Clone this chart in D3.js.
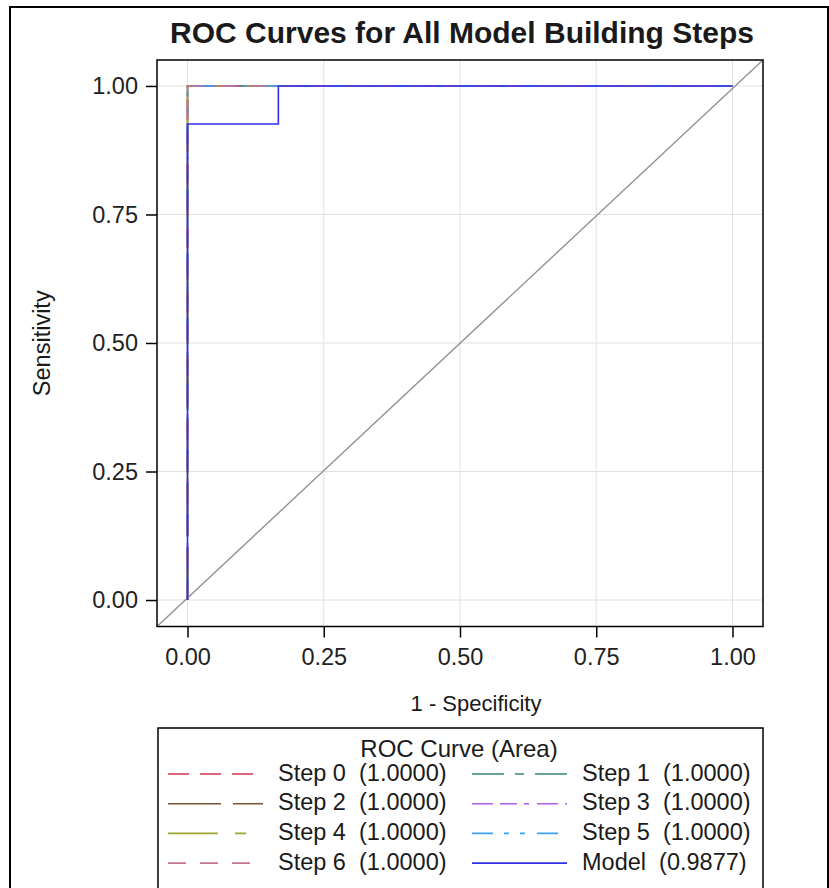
<!DOCTYPE html>
<meta charset="utf-8">
<script src="https://cdn.jsdelivr.net/npm/d3@7"></script>
<style>
body { margin: 0; background: #fff; }
text { font-family: "Liberation Sans", Arial, sans-serif; fill: #1a1a1a; }
.tick text { font-size: 23.5px; fill: #222; }
.grid line { stroke: #e1e1e1; stroke-width: 1px; }
.curve { fill: none; stroke-width: 1.6px; }
</style>
<div id="plot"></div>
<script>

// ROC data
var curveNames = ["Step 0", "Step 1", "Step 2", "Step 3", "Step 4", "Step 5", "Step 6", "Model"];
var curveAreas = [1.0000, 1.0000, 1.0000, 1.0000, 1.0000, 1.0000, 1.0000, 0.9877];
var stepFpr = [0, 0, 1];
var stepTpr = [0, 1, 1];
var modelFpr = [0, 0, 0.1667, 0.1667, 1];
var modelTpr = [0, 0.926, 0.926, 1, 1];
var xTicks = [0, 0.25, 0.5, 0.75, 1];
var yTicks = [0, 0.25, 0.5, 0.75, 1];

var colors = ["#d2344f", "#35897a", "#7b5433", "#b05fe6", "#9ea532", "#3f9ff0", "#c8739a", "#3030e8"];
var dashes = ["21,11", "32,11,9,11", "53,12", "21,7,17,7,5,8", "50,17,11,17", "21,11,5,11,5,12", "18,14", null];

// sizes
var W = 829, H = 888;
var margin = {top: 60, right: 66, bottom: 261.5, left: 157},
	width = W - margin.left - margin.right,
	height = H - margin.top - margin.bottom;

var x = d3.scaleLinear().domain([-0.056, 1.056]).range([0, width]);
var y = d3.scaleLinear().domain([-0.0515, 1.0505]).range([height, 0]);

var root = d3.select("#plot").append("svg")
	.attr("width", W)
	.attr("height", H);

// outer frame
root.append("rect")
	.attr("x", 10).attr("y", 7)
	.attr("width", 818).attr("height", 900)
	.attr("fill", "none")
	.attr("stroke", "#000")
	.attr("stroke-width", 2);

root.append("text")
	.attr("x", 462)
	.attr("y", 43)
	.attr("text-anchor", "middle")
	.style("font-size", "30px")
	.style("font-weight", "bold")
	.text("ROC Curves for All Model Building Steps");

var svg = root.append("g")
	.attr("transform", "translate(" + margin.left + "," + margin.top + ")");

// grid
svg.append("g").attr("class", "grid")
	.selectAll("line").data(xTicks).enter().append("line")
	.attr("x1", function(d) { return x(d); })
	.attr("x2", function(d) { return x(d); })
	.attr("y1", 0).attr("y2", height);

svg.append("g").attr("class", "grid")
	.selectAll("line").data(yTicks).enter().append("line")
	.attr("y1", function(d) { return y(d); })
	.attr("y2", function(d) { return y(d); })
	.attr("x1", 0).attr("x2", width);

// axes
var xAxis = d3.axisBottom(x).tickValues(xTicks).tickFormat(d3.format(".2f"))
	.tickSizeInner(11).tickSizeOuter(0).tickPadding(11);
var yAxis = d3.axisLeft(y).tickValues(yTicks).tickFormat(d3.format(".2f"))
	.tickSizeInner(11).tickSizeOuter(0).tickPadding(8);

svg.append("g")
	.attr("transform", "translate(0," + height + ")")
	.call(xAxis)
	.call(function(g) { g.select(".domain").remove(); });

svg.append("g")
	.call(yAxis)
	.call(function(g) { g.select(".domain").remove(); });

svg.selectAll(".tick line").attr("stroke", "#000").attr("stroke-width", 1.5);
svg.selectAll(".tick text").attr("font-family", null).attr("font-size", null);

svg.append("text")
	.attr("x", 476 - margin.left)
	.attr("y", height + 84)
	.attr("text-anchor", "middle")
	.style("font-size", "22px")
	.text("1 - Specificity");

svg.append("text")
	.attr("transform", "rotate(-90)")
	.attr("x", -height / 2)
	.attr("y", 50 - margin.left)
	.attr("text-anchor", "middle")
	.style("font-size", "23.5px")
	.text("Sensitivity");

// diagonal reference
var plotArea = svg.append("g");
plotArea.append("path")
	.datum([[x.domain()[0], y.domain()[0]], [x.domain()[1], y.domain()[1]]])
	.attr("fill", "none")
	.attr("stroke", "#939393")
	.attr("stroke-width", 1.4)
	.attr("d", d3.line()
		.x(function(d) { return x(d[0]); })
		.y(function(d) { return y(d[1]); }));

var line = d3.line()
	.x(function(d) { return x(d[0]); })
	.y(function(d) { return y(d[1]); });

var curves = curveNames.map(function(name, i) {
	var fpr = name == "Model" ? modelFpr : stepFpr;
	var tpr = name == "Model" ? modelTpr : stepTpr;
	return fpr.map(function(f, j) { return [f, tpr[j]]; });
});

plotArea.selectAll(".curve")
	.data(curves).enter().append("path")
	.attr("class", "curve")
	.attr("stroke", function(d, i) { return colors[i]; })
	.attr("stroke-dasharray", function(d, i) { return dashes[i]; })
	.attr("d", line);

// plot frame
svg.append("rect")
	.attr("width", width).attr("height", height)
	.attr("fill", "none")
	.attr("stroke", "#000")
	.attr("stroke-width", 1.5);

// legend
var legTop = 728;
var legend = root.append("g");
legend.append("rect")
	.attr("x", 158).attr("y", legTop)
	.attr("width", 605).attr("height", 170)
	.attr("fill", "none")
	.attr("stroke", "#000")
	.attr("stroke-width", 1.5);

legend.append("text")
	.attr("x", 459)
	.attr("y", legTop + 29)
	.attr("text-anchor", "middle")
	.style("font-size", "24px")
	.text("ROC Curve (Area)");

var colX = [168, 472];
var items = legend.selectAll(".item")
	.data(curveNames).enter().append("g")
	.attr("class", "item")
	.attr("transform", function(d, i) {
		return "translate(" + colX[i % 2] + "," + (legTop + 46 + Math.floor(i / 2) * 29.7) + ")";
	});

items.append("line")
	.attr("x1", 0).attr("x2", 95)
	.attr("y1", 0).attr("y2", 0)
	.attr("stroke-width", 1.6)
	.attr("stroke", function(d, i) { return colors[i]; })
	.attr("stroke-dasharray", function(d, i) { return dashes[i]; });

items.append("text")
	.attr("x", 110)
	.attr("y", 6.5)
	.style("font-size", "23.5px")
	.style("white-space", "pre")
	.text(function(d, i) { return d + "  (" + curveAreas[i].toFixed(4) + ")"; });

</script>
